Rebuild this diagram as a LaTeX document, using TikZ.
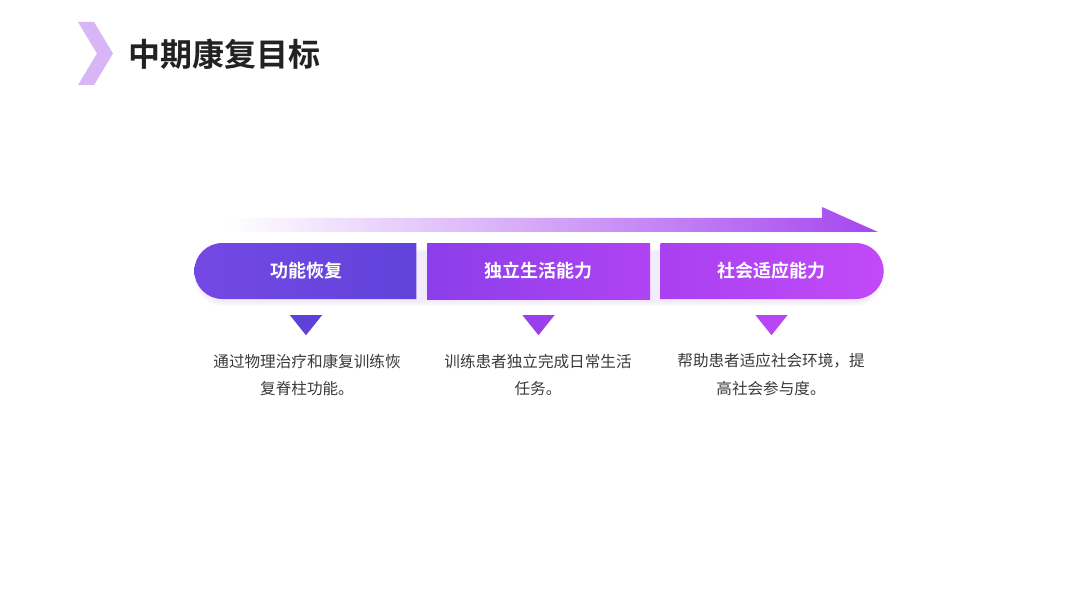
\documentclass[tikz,border=0pt]{standalone}
\usepackage{fontspec}
\setmainfont{Noto Sans CJK SC}
\newfontfamily\cjkbold{Noto Sans CJK SC Bold}
\usetikzlibrary{shapes.misc,calc}
\definecolor{titlec}{HTML}{222222}
\definecolor{descc}{HTML}{3A3A3A}
\definecolor{chev}{HTML}{D8B6F6}
\definecolor{arrowc}{HTML}{A546EF}
\definecolor{bAl}{HTML}{7448E4}
\definecolor{bAr}{HTML}{6043DA}
\definecolor{bBl}{HTML}{8B3EEA}
\definecolor{bBr}{HTML}{B043F3}
\definecolor{bCl}{HTML}{A941F1}
\definecolor{bCr}{HTML}{C24AF8}
\definecolor{tA}{HTML}{5F40D8}
\definecolor{tB}{HTML}{9A3FEC}
\definecolor{tC}{HTML}{B846F5}
\definecolor{glow}{HTML}{B98AF0}
\begin{document}
\begin{tikzpicture}[x=1pt,y=-1pt,
  stagebox/.style={rounded rectangle, minimum width=222pt, minimum height=56pt, inner sep=0pt,
    text=white, font=\cjkbold\fontsize{18}{20}\selectfont},
  desc/.style={align=center, text=descc, font=\fontsize{15.6}{28}\selectfont, inner sep=0pt}]
\useasboundingbox (0,0) rectangle (1080,607);
\fill[white] (0,0) rectangle (1080,607);
% chevron
\fill[chev] (78,22) -- (94,22) -- (113,53.5) -- (94,85) -- (78,85) -- (97,53.5) -- cycle;
\node[anchor=west, text=titlec, font=\cjkbold\fontsize{32}{34}\selectfont, inner sep=0pt] (title) at (128,54) {中期康复目标};
% gradient arrow
\shade[left color=white, right color=arrowc] (228,218) -- (822,218) -- (822,207) -- (878,232) -- (228,232) -- cycle;
% glows
\foreach \k in {1,...,5}{
  \fill[glow, opacity=0.03, rounded corners=28pt] (197-\k*0.6,247+\k) rectangle (881+\k*0.6,301+\k);
}
% boxes
\node[stagebox, rounded rectangle right arc=none, left color=bAl, right color=bAr] (b1) at (306,271) {功能恢复};
\node[stagebox, rectangle, minimum width=223pt, left color=bBl, right color=bBr] (b2) at (538.5,271) {独立生活能力};
\node[stagebox, rounded rectangle left arc=none, minimum width=223pt, left color=bCl, right color=bCr] (b3) at (771.5,271) {社会适应能力};
% triangles
\fill[tA] ($(b1.south)+(-16,16)$) -- ($(b1.south)+(16,16)$) -- ($(b1.south)+(0,36)$) -- cycle;
\fill[tB] ($(b2.south)+(-16,16)$) -- ($(b2.south)+(16,16)$) -- ($(b2.south)+(0,36)$) -- cycle;
\fill[tC] ($(b3.south)+(-16,16)$) -- ($(b3.south)+(16,16)$) -- ($(b3.south)+(0,36)$) -- cycle;
% descriptions
\node[desc] (d1) at (307,375) {通过物理治疗和康复训练恢\\复脊柱功能。};
\node[desc] (d2) at (538,375) {训练患者独立完成日常生活\\任务。};
\node[desc] (d3) at (771,375) {帮助患者适应社会环境，提\\高社会参与度。};
\end{tikzpicture}
\end{document}
